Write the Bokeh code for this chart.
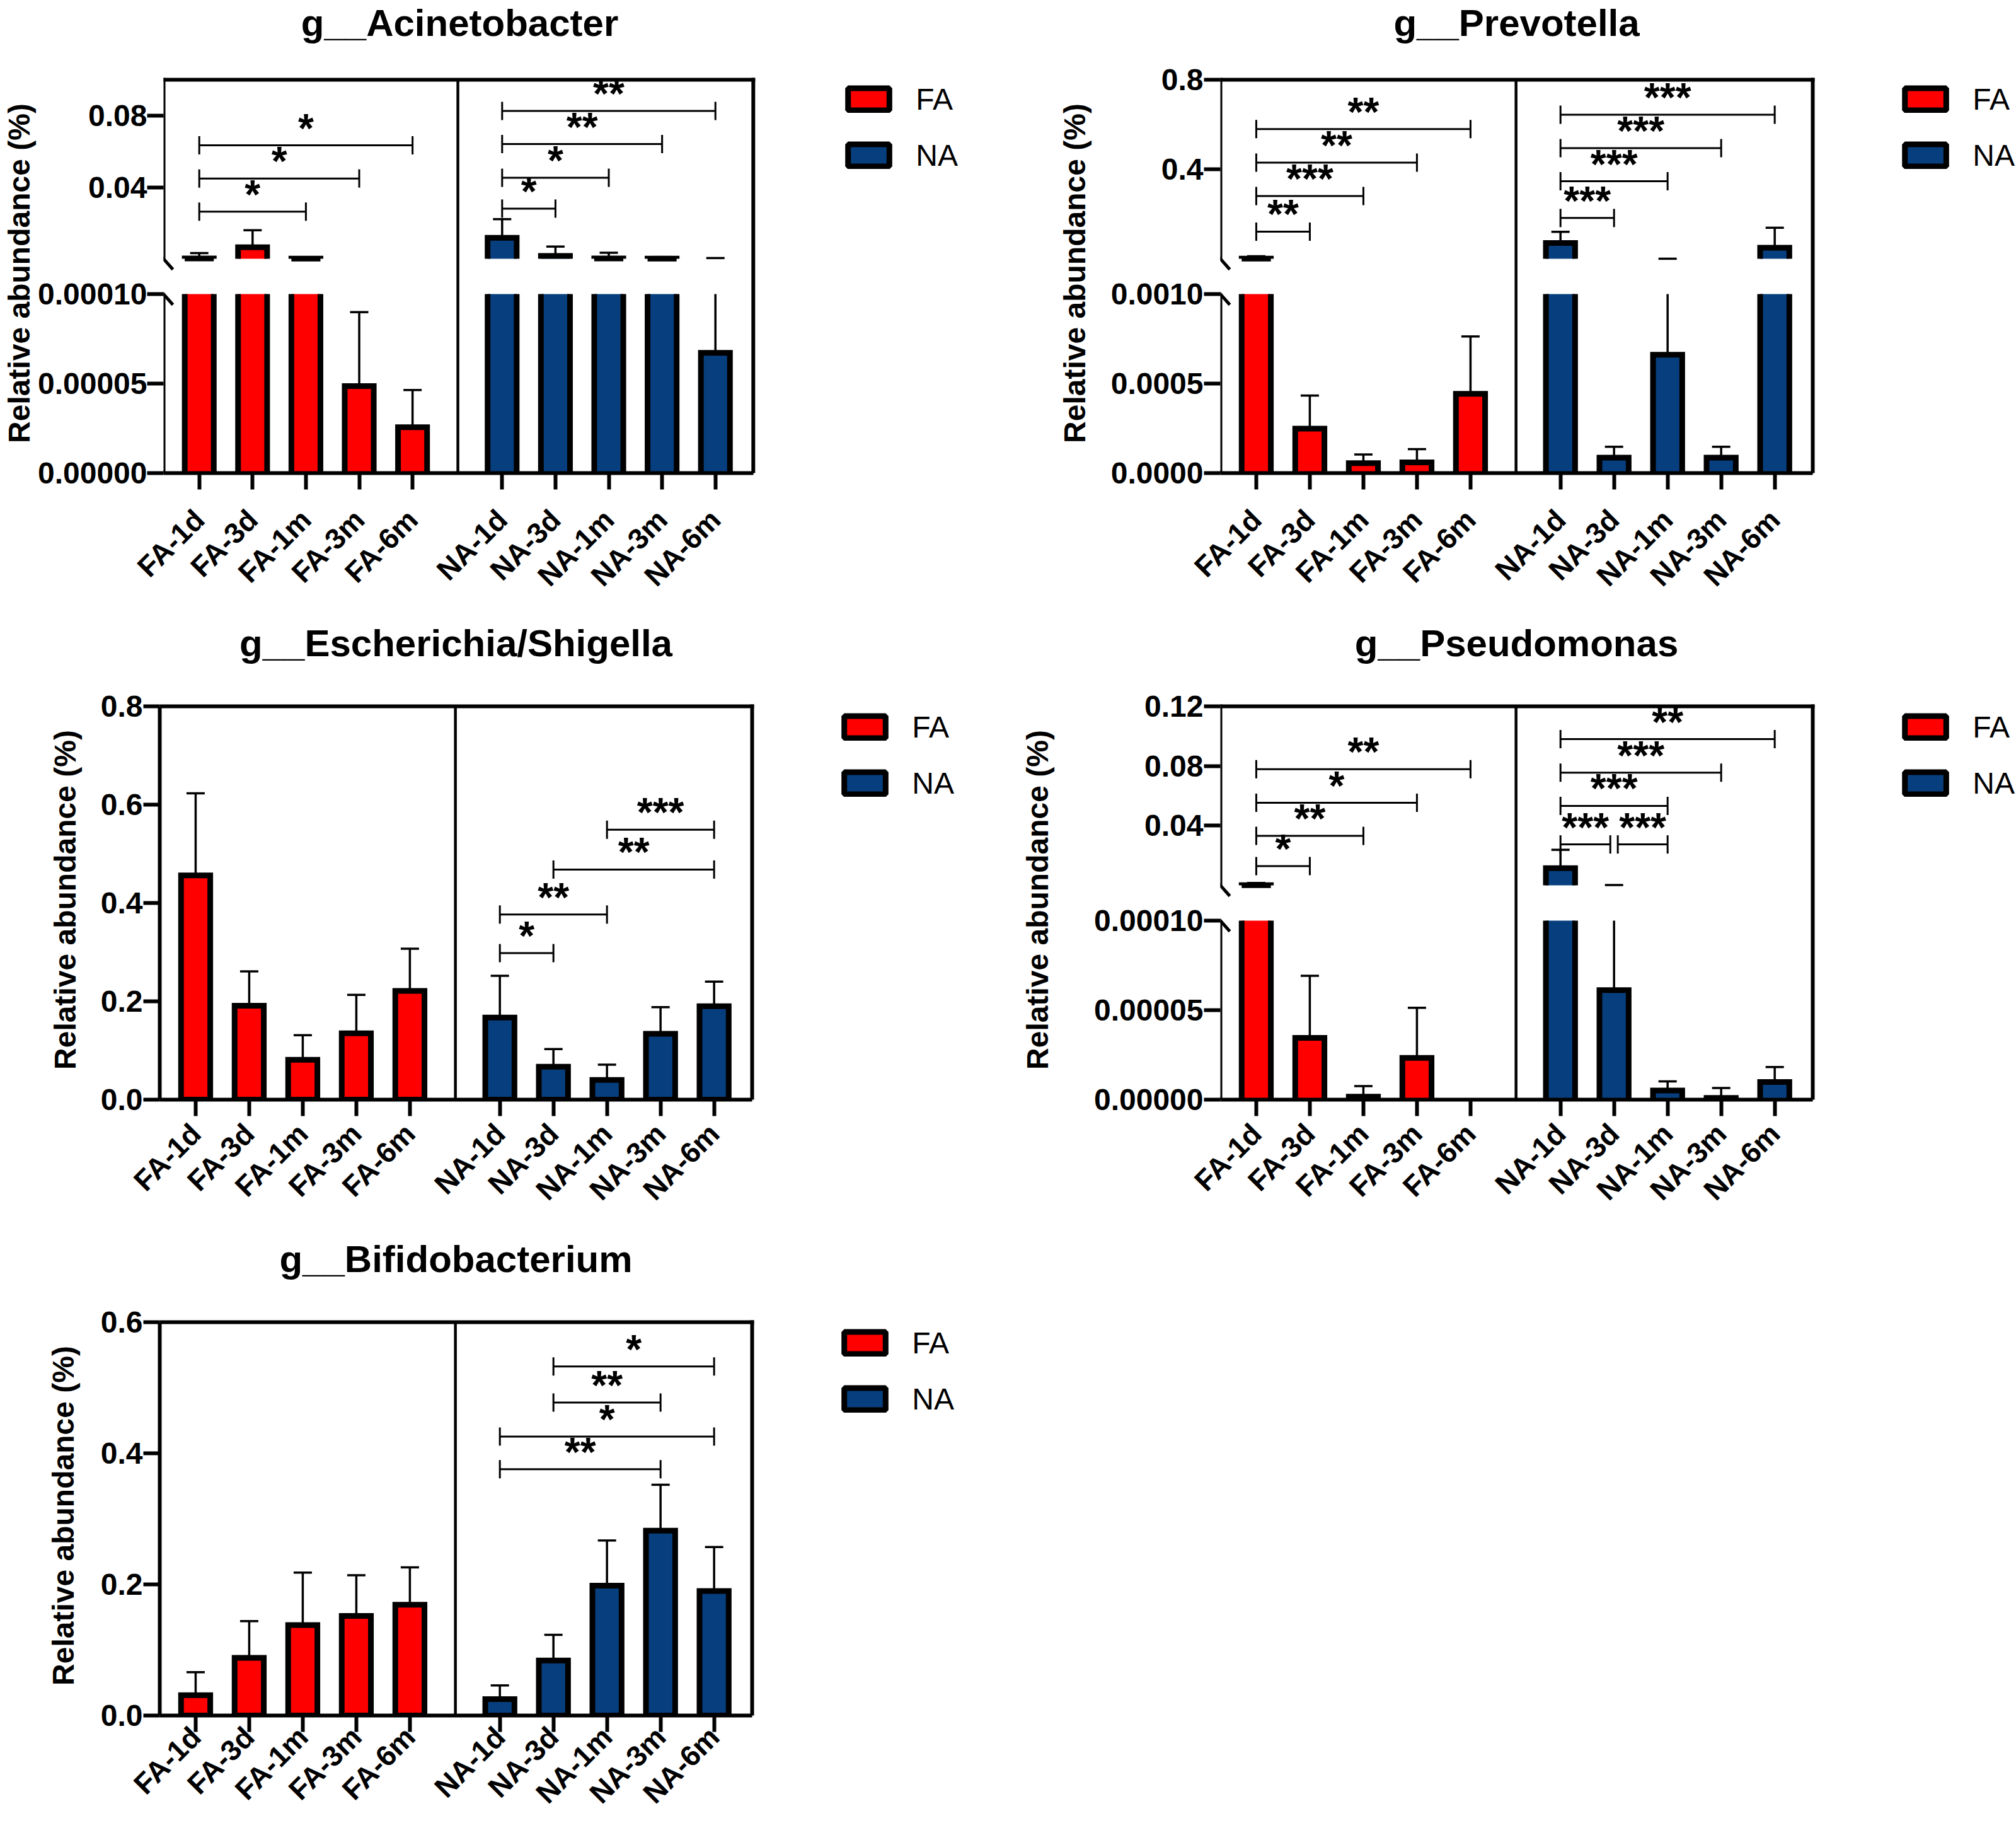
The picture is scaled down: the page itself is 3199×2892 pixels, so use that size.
import numpy as np
from bokeh.plotting import figure
from bokeh.models import Range1d, FixedTicker, Arrow, Legend, LegendItem, Title
from bokeh.layouts import row, column
from bokeh.embed import file_html
from bokeh.resources import INLINE
from bokeh.core.properties import value

FA_GROUPS = ["FA-1d", "FA-3d", "FA-1m", "FA-3m", "FA-6m"]
NA_GROUPS = ["NA-1d", "NA-3d", "NA-1m", "NA-3m", "NA-6m"]
LEGEND_LABELS = ["FA", "NA"]

# ---------------- g__Acinetobacter (broken axis) ----------------
acin_fa_mean = [0.0003, 0.0065, 0.00015, 0.0000486, 0.0000256]
acin_fa_sem = [0.0030, 0.0095, 0.00035, 0.0000413, 0.0000208]
acin_na_mean = [0.0118, 0.0017, 0.00025, 0.0002, 0.0000672]
acin_na_sem = [0.0104, 0.0052, 0.0032, 0.0009, 0.00043]
acin_low_ticks = [0.0, 0.00005, 0.0001]
acin_low_labels = ["0.00000", "0.00005", "0.00010"]
acin_up_ticks = [0.04, 0.08]
acin_up_labels = ["0.04", "0.08"]
acin_up_top = 0.1
acin_br_from = ["FA-1d", "FA-1d", "FA-1d", "NA-1d", "NA-1d", "NA-1d", "NA-1d"]
acin_br_to = ["FA-1m", "FA-3m", "FA-6m", "NA-3d", "NA-1m", "NA-3m", "NA-6m"]
acin_br_y = [0.0264, 0.0449, 0.0634, 0.0281, 0.0453, 0.0641, 0.0826]
acin_br_txt = ["*", "*", "*", "*", "*", "**", "**"]

# ---------------- g__Prevotella (broken axis) ----------------
prev_fa_mean = [0.0015, 0.000248, 0.0000555, 0.00006, 0.000443]
prev_fa_sem = [0.011, 0.000185, 0.000048, 0.000074, 0.00032]
prev_na_mean = [0.0713, 0.000086, 0.000661, 0.000086, 0.0504]
prev_na_sem = [0.050, 0.000061, 0.00054, 0.000061, 0.089]
prev_low_ticks = [0.0, 0.0005, 0.001]
prev_low_labels = ["0.0000", "0.0005", "0.0010"]
prev_up_ticks = [0.4, 0.8]
prev_up_labels = ["0.4", "0.8"]
prev_up_top = 0.8
prev_br_from = ["FA-1d", "FA-1d", "FA-1d", "FA-1d", "NA-1d", "NA-1d", "NA-1d", "NA-1d"]
prev_br_to = ["FA-3d", "FA-1m", "FA-3m", "FA-6m", "NA-3d", "NA-1m", "NA-3m", "NA-6m"]
prev_br_y = [0.122, 0.281, 0.430, 0.580, 0.183, 0.347, 0.495, 0.644]
prev_br_txt = ["**", "***", "**", "**", "***", "***", "***", "***"]

# ---------------- g__Escherichia/Shigella ----------------
esch_fa_mean = [0.456, 0.191, 0.081, 0.135, 0.221]
esch_fa_sem = [0.167, 0.070, 0.050, 0.078, 0.086]
esch_na_mean = [0.167, 0.067, 0.040, 0.134, 0.190]
esch_na_sem = [0.085, 0.036, 0.031, 0.054, 0.050]
esch_ticks = [0.0, 0.2, 0.4, 0.6, 0.8]
esch_labels = ["0.0", "0.2", "0.4", "0.6", "0.8"]
esch_br_from = ["NA-1d", "NA-1d", "NA-3d", "NA-1m"]
esch_br_to = ["NA-3d", "NA-1m", "NA-6m", "NA-6m"]
esch_br_y = [0.298, 0.3765, 0.468, 0.549]
esch_br_txt = ["*", "**", "**", "***"]

# ---------------- g__Pseudomonas (broken axis) ----------------
pseu_fa_mean = [0.0002, 0.0000345, 0.0000017, 0.0000233, 0.0]
pseu_fa_sem = [0.0015, 0.0000347, 0.0000059, 0.000028, 0.0]
pseu_na_mean = [0.0116, 0.0000612, 0.0000051, 0.000001, 0.0000099]
pseu_na_sem = [0.0123, 0.00024, 0.0000051, 0.0000055, 0.0000083]
pseu_low_ticks = [0.0, 0.00005, 0.0001]
pseu_low_labels = ["0.00000", "0.00005", "0.00010"]
pseu_up_ticks = [0.04, 0.08, 0.12]
pseu_up_labels = ["0.04", "0.08", "0.12"]
pseu_up_top = 0.12
pseu_br_from = ["FA-1d", "FA-1d", "FA-1d", "FA-1d", "NA-1d", "NA-3d", "NA-1d", "NA-1d", "NA-1d"]
pseu_br_to = ["FA-3d", "FA-1m", "FA-3m", "FA-6m", "NA-3d", "NA-1m", "NA-1m", "NA-3m", "NA-6m"]
pseu_br_y = [0.0130, 0.0332, 0.0554, 0.0779, 0.0275, 0.0275, 0.0533, 0.0756, 0.098]
pseu_br_txt = ["*", "**", "*", "**", "***", "***", "***", "***", "**"]

# ---------------- g__Bifidobacterium ----------------
bifi_fa_mean = [0.031, 0.088, 0.138, 0.152, 0.169]
bifi_fa_sem = [0.035, 0.056, 0.080, 0.062, 0.057]
bifi_na_mean = [0.025, 0.084, 0.198, 0.282, 0.190]
bifi_na_sem = [0.021, 0.039, 0.069, 0.070, 0.067]
bifi_ticks = [0.0, 0.2, 0.4, 0.6]
bifi_labels = ["0.0", "0.2", "0.4", "0.6"]
bifi_br_from = ["NA-1d", "NA-1d", "NA-3d", "NA-3d"]
bifi_br_to = ["NA-3m", "NA-6m", "NA-3m", "NA-6m"]
bifi_br_y = [0.3757, 0.4256, 0.4773, 0.5325]
bifi_br_txt = ["**", "*", "**", "*"]

# ---------------- styling / layout constants ----------------
RED = "#ff0000"
BLUE = "#073f7e"
INK = "#000000"
FONT = "Liberation Sans"
FW, FH = 940, 624            # plot box size (px)
MT = 10                      # frame margin above the plot box
FH2 = FH + MT
H_LOW, H_GAP, H_UP = 284, 56, 284
X0, X1 = -0.67, 10.39
PX_PER_X = FW / (X1 - X0)
BAR_W = 0.545
CAP = 29
DIVIDER = 4.85
TITLE_PX = 60
# legend swatch: Bokeh draws area swatches inset by 10% on every side
SW_W, SW_H = 82, 44
# advance widths (1/1000 em) of Liberation Sans Bold, used to centre titles over the plot box
BOLD_W = {"g": 611, "_": 556, "A": 722, "c": 556, "i": 278, "n": 611, "e": 556, "t": 333,
          "o": 611, "b": 611, "a": 556, "r": 389, "P": 667, "v": 556, "l": 278, "E": 667,
          "s": 556, "h": 611, "/": 278, "S": 667, "u": 611, "m": 889, "d": 611, "p": 611,
          "B": 722, "f": 333}


def seg(p, x0, y0, x1, y1, lw, rn="default", cap="square"):
    p.add_layout(Arrow(end=None, x_start=x0, y_start=y0, x_end=x1, y_end=y1, line_width=lw,
                       line_color=INK, line_cap=cap, y_range_name=rn))


def make_panel(title, fa_m, fa_e, na_m, na_e, low_ticks, low_labels,
               br_from, br_to, br_y, br_txt, width, height, b_left, b_top,
               tick_standoff, lab_standoff, title_gap, xlab_standoff, leg_center,
               up_ticks=None, up_labels=None, up_top=None):
    broken = up_ticks is not None
    L = low_ticks[-1]
    k_low = L / (H_LOW if broken else FH)
    p_top = k_low * FH                       # main-range value at the top of the plot box
    frame_w = width - b_left
    p = figure(width=width, height=height,
               x_range=Range1d(X0, X0 + frame_w / PX_PER_X),
               y_range=Range1d(0, k_low * FH2), output_backend="svg",
               toolbar_location=None, min_border_left=b_left, min_border_right=0,
               min_border_top=b_top - MT, min_border_bottom=height - b_top - FH)
    p.outline_line_color = None
    p.xgrid.visible = False
    p.ygrid.visible = False
    p.background_fill_color = "white"
    p.border_fill_color = "white"

    groups = FA_GROUPS + NA_GROUPS
    xs = np.array([float(i) for i in range(5)] + [5.68 + i for i in range(5)])
    pos = dict(zip(groups, xs))
    means = np.array(fa_m + na_m, dtype=float)
    errs = np.array(fa_e + na_e, dtype=float)
    colors = np.array([RED] * 5 + [BLUE] * 5)
    tops = means + errs

    if not broken:
        m = means > 0
        p.vbar(x=xs[m], top=means[m], bottom=0, width=BAR_W, fill_color=list(colors[m]),
               line_color=INK, line_width=9, line_join="miter")
        w = m & (errs > 0)
        p.segment(x0=xs[w], y0=means[w], x1=xs[w], y1=tops[w], line_width=3.5, line_color=INK)
        p.scatter(x=xs[w], y=tops[w], marker="dash", size=CAP, line_width=3.5, line_color=INK)
        rn = "default"
        yticks = list(low_ticks)
        ylabels = list(low_labels)
    else:
        a = L
        top = up_top
        k_up = (top - a) / H_UP
        up_start = a - k_up * (H_LOW + H_GAP)
        p.extra_y_ranges = {"up": Range1d(up_start, up_start + k_up * FH2)}
        rn = "up"
        # lower segment (bars clipped at the break)
        lowv = np.minimum(means, L)
        clip = means > L
        m = lowv > 0
        p.vbar(x=xs[m], bottom=0, top=lowv[m], width=BAR_W, fill_color=list(colors[m]), line_color=None)
        oxs, oys = [], []
        for x, t, c in zip(xs, lowv, clip):
            if t <= 0:
                continue
            xl, xr = x - BAR_W / 2, x + BAR_W / 2
            if c:
                oxs += [[xl, xl], [xr, xr]]
                oys += [[0, t], [0, t]]
            else:
                oxs.append([xl, xl, xr, xr])
                oys.append([0, t, t, 0])
        p.multi_line(oxs, oys, line_color=INK, line_width=9, line_join="miter")
        wl = (means < L) & (errs > 0)
        y1 = np.minimum(tops, L)
        p.segment(x0=xs[wl], y0=means[wl], x1=xs[wl], y1=y1[wl], line_width=3.5, line_color=INK)
        cm = wl & (tops <= L)
        p.scatter(x=xs[cm], y=tops[cm], marker="dash", size=CAP, line_width=3.5, line_color=INK)
        # upper segment
        u = means > a
        p.vbar(x=xs[u], bottom=a, top=means[u], width=BAR_W, fill_color=list(colors[u]),
               line_color=None, y_range_name="up")
        uxs = [[x - BAR_W / 2, x - BAR_W / 2, x + BAR_W / 2, x + BAR_W / 2] for x in xs[u]]
        uys = [[a, v, v, a] for v in means[u]]
        p.multi_line(uxs, uys, line_color=INK, line_width=9, line_join="miter", y_range_name="up")
        uw = (tops > a) & (errs > 0)
        p.segment(x0=xs[uw], y0=np.maximum(means, a)[uw], x1=xs[uw], y1=tops[uw],
                  line_width=3.5, line_color=INK, y_range_name="up")
        p.scatter(x=xs[uw], y=tops[uw], marker="dash", size=CAP, line_width=3.5,
                  line_color=INK, y_range_name="up")

        yticks = list(low_ticks) + [(H_LOW + H_GAP + (v - a) / k_up) * k_low for v in up_ticks]
        ylabels = list(low_labels) + list(up_labels)
        # broken left axis lines and break marks
        seg(p, X0, 0, X0, L, 6, cap="butt")
        seg(p, X0, a, X0, top, 6, rn="up")
        dxu = 15 / PX_PER_X
        seg(p, X0 - dxu, a + 17 * k_up, X0 + dxu, a - 17 * k_up, 5, rn="up", cap="butt")
        seg(p, X0 - dxu, L + 17 * k_low, X0 + dxu, L - 17 * k_low, 5, cap="butt")

    # significance brackets
    bx0, bx1 = [], []
    for f, t, y in zip(br_from, br_to, br_y):
        x0, x1 = pos[f], pos[t]
        for f2, t2, y2 in zip(br_from, br_to, br_y):
            if y2 == y and (f2, t2) != (f, t):
                if t2 == f:
                    x0 += 0.07
                if f2 == t:
                    x1 -= 0.07
        bx0.append(x0)
        bx1.append(x1)
    p.segment(x0=bx0, y0=br_y, x1=bx1, y1=br_y, line_width=3, line_color=INK, y_range_name=rn)
    p.scatter(x=bx0 + bx1, y=list(br_y) + list(br_y), marker="dash", angle=np.pi / 2, size=29,
              line_width=3, line_color=INK, y_range_name=rn)
    mids = [(u0 + u1) / 2 for u0, u1 in zip(bx0, bx1)]
    p.text(x=mids, y=br_y, text=br_txt, text_align="center", text_baseline="alphabetic",
           text_font=value(FONT), text_font_style="bold", text_font_size="64px",
           text_color=INK, y_offset=-27, y_range_name=rn)

    # plot box: top, right and the FA | NA divider
    seg(p, X0, p_top, X1, p_top, 6)
    seg(p, X1, 0, X1, p_top, 6)
    seg(p, DIVIDER, 0, DIVIDER, p_top, 4.5, cap="butt")

    # x axis
    xa = p.xaxis[0]
    xa.bounds = (X0, X1)
    xa.ticker = FixedTicker(ticks=list(xs), minor_ticks=[])
    xa.major_label_overrides = {float(x): g for x, g in zip(xs, groups)}
    xa.major_label_orientation = np.pi / 4
    xa.major_label_text_font = FONT
    xa.major_label_text_font_style = "bold"
    xa.major_label_text_font_size = "46px"
    xa.major_label_text_color = INK
    xa.major_label_standoff = xlab_standoff
    xa.axis_line_width = 6
    xa.axis_line_color = INK
    xa.major_tick_line_width = 6
    xa.major_tick_line_color = INK
    xa.major_tick_out = 26
    xa.major_tick_in = 0
    xa.minor_tick_line_color = None

    # y axis
    ya = p.yaxis[0]
    ya.bounds = (0, p_top)
    ya.ticker = FixedTicker(ticks=yticks, minor_ticks=[])
    ya.major_label_overrides = dict(zip(yticks, ylabels))
    ya.major_label_text_font = FONT
    ya.major_label_text_font_style = "bold"
    ya.major_label_text_font_size = "48px"
    ya.major_label_text_color = INK
    ya.major_label_standoff = tick_standoff
    ya.major_tick_line_width = 6
    ya.major_tick_line_color = INK
    ya.major_tick_out = 26
    ya.major_tick_in = 0
    ya.minor_tick_line_color = None
    ya.axis_line_width = 6
    ya.axis_line_color = None if broken else INK
    ya.axis_label = "Relative abundance (%)"
    ya.axis_label_text_font = FONT
    ya.axis_label_text_font_style = "bold"
    ya.axis_label_text_font_size = "48px"
    ya.axis_label_text_color = INK
    ya.axis_label_standoff = lab_standoff

    # title centred over the plot box (a blank spacer title pushes it upward)
    tw = sum(BOLD_W.get(ch, 600) for ch in title) * TITLE_PX / 1000.0
    p.add_layout(Title(text=" ", text_font_size="1px", standoff=max(title_gap - 3, 0)), "above")
    p.add_layout(Title(text=title, align="left", offset=FW / 2 - tw / 2, text_font=FONT,
                       text_font_size="%dpx" % TITLE_PX, text_font_style="bold",
                       text_color=INK, standoff=0), "above")

    # legend to the right of the plot box (inside the wide frame)
    r_fa = p.vbar(x=[X0 - 10.0], top=[0.0], width=BAR_W, fill_color=RED, line_color=INK, line_width=9)
    r_na = p.vbar(x=[X0 - 10.0], top=[0.0], width=BAR_W, fill_color=BLUE, line_color=INK, line_width=9)
    item_h = 55
    spacing = 89 - item_h
    leg_h = 2 * item_h + spacing
    leg_x = 1086.5 - 0.1 * SW_W
    leg = Legend(items=[LegendItem(label=LEGEND_LABELS[0], renderers=[r_fa]),
                        LegendItem(label=LEGEND_LABELS[1], renderers=[r_na])],
                 location=(leg_x, FH - (leg_center - item_h / 2) - leg_h),
                 glyph_width=SW_W, glyph_height=SW_H, label_height=item_h,
                 label_standoff=int(round(1194 - leg_x - SW_W)),
                 spacing=spacing, padding=0, margin=0, border_line_color=None,
                 background_fill_alpha=0, label_text_font=FONT, label_text_font_size="48px",
                 label_text_color=INK)
    p.add_layout(leg)
    return p


pA = make_panel("g__Acinetobacter", acin_fa_mean, acin_fa_sem, acin_na_mean, acin_na_sem,
                acin_low_ticks, acin_low_labels, acin_br_from, acin_br_to, acin_br_y, acin_br_txt,
                1600, 970, 253, 126, 0, 0, 47, 40, 31, acin_up_ticks, acin_up_labels, acin_up_top)
pB = make_panel("g__Prevotella", prev_fa_mean, prev_fa_sem, prev_na_mean, prev_na_sem,
                prev_low_ticks, prev_low_labels, prev_br_from, prev_br_to, prev_br_y, prev_br_txt,
                1599, 970, 336, 126, 1, 28, 47, 40, 31, prev_up_ticks, prev_up_labels, prev_up_top)
pC = make_panel("g__Escherichia/Shigella", esch_fa_mean, esch_fa_sem, esch_na_mean, esch_na_sem,
                esch_ticks, esch_labels, esch_br_from, esch_br_to, esch_br_y, esch_br_txt,
                1600, 970, 253, 150, 1, 27, 57, 20, 33)
pD = make_panel("g__Pseudomonas", pseu_fa_mean, pseu_fa_sem, pseu_na_mean, pseu_na_sem,
                pseu_low_ticks, pseu_low_labels, pseu_br_from, pseu_br_to, pseu_br_y, pseu_br_txt,
                1599, 970, 336, 150, 1, 60, 57, 20, 33, pseu_up_ticks, pseu_up_labels, pseu_up_top)
pE = make_panel("g__Bifidobacterium", bifi_fa_mean, bifi_fa_sem, bifi_na_mean, bifi_na_sem,
                bifi_ticks, bifi_labels, bifi_br_from, bifi_br_to, bifi_br_y, bifi_br_txt,
                1600, 952, 253, 157, 1, 30, 57, 0, 33)

layout = column(row(pA, pB), row(pC, pD), row(pE))
open("out.html", "w").write(file_html(layout, INLINE))
